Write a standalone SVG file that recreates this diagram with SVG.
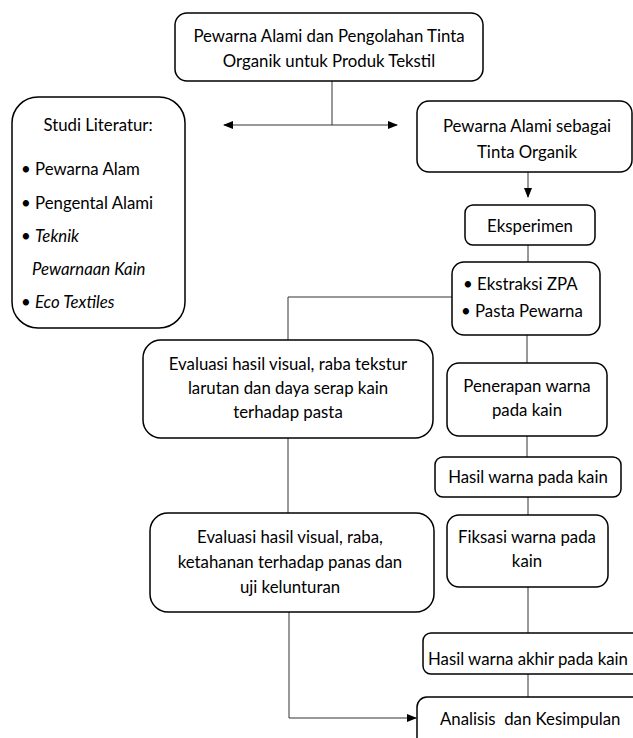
<svg xmlns="http://www.w3.org/2000/svg" width="633" height="738" viewBox="0 0 633 738">
<style>
.box{fill:#fff;stroke:#000;stroke-width:1.5}
.t{font-family:Lato,"Liberation Sans",sans-serif;font-size:16.8px;fill:#000}
.c{text-anchor:middle}
.i{font-style:italic}
.ln{fill:none;stroke:#333;stroke-width:1}
</style>
<defs>
<marker id="ah" markerWidth="10" markerHeight="10" refX="9" refY="5" orient="auto-start-reverse" markerUnits="userSpaceOnUse">
<path d="M0,1 L10,5 L0,9 Z" fill="#000"/>
</marker>
</defs>
<rect width="633" height="738" fill="#fff"/>
<g id="connectors">
<line class="ln" x1="332" y1="81" x2="332" y2="125"/>
<line class="ln" x1="224" y1="125" x2="397" y2="125" marker-start="url(#ah)" marker-end="url(#ah)"/>
<line class="ln" x1="528" y1="172" x2="528" y2="197" marker-end="url(#ah)"/>
<line class="ln" x1="528" y1="245" x2="528" y2="262"/>
<polyline class="ln" points="452,297 288,297 288,340"/>
<line class="ln" x1="527" y1="335" x2="527" y2="363"/>
<line class="ln" x1="288" y1="438" x2="288" y2="513"/>
<line class="ln" x1="527" y1="436" x2="527" y2="457"/>
<line class="ln" x1="528" y1="497" x2="528" y2="515"/>
<line class="ln" x1="528" y1="587" x2="528" y2="633"/>
<line class="ln" x1="528" y1="674" x2="528" y2="697"/>
<polyline class="ln" points="289,612 289,718 416,718" marker-end="url(#ah)"/>
</g>
<g id="n-top">
<rect class="box" x="175" y="13" width="308" height="68" rx="12"/>
<text class="t c" x="329" y="42">Pewarna Alami dan Pengolahan Tinta</text>
<text class="t c" x="329" y="67">Organik untuk Produk Tekstil</text>
</g>
<g id="n-studi">
<rect class="box" x="12" y="97" width="173" height="231" rx="26"/>
<text class="t c" x="98" y="131">Studi Literatur:</text>
<text class="t" x="21" y="175">• Pewarna Alam</text>
<text class="t" x="21" y="209">• Pengental Alami</text>
<text class="t" x="21" y="242">• <tspan class="i">Teknik</tspan></text>
<text class="t i" x="32" y="275">Pewarnaan Kain</text>
<text class="t" x="21" y="308">• <tspan class="i">Eco Textiles</tspan></text>
</g>
<g id="n-tinta">
<rect class="box" x="417" y="101" width="215" height="71" rx="12"/>
<text class="t c" x="527" y="132">Pewarna Alami sebagai</text>
<text class="t c" x="527" y="158">Tinta Organik</text>
</g>
<g id="n-eksperimen">
<rect class="box" x="465" y="205" width="130" height="40" rx="8"/>
<text class="t c" x="530" y="232">Eksperimen</text>
</g>
<g id="n-ekstraksi">
<rect class="box" x="452" y="262" width="148" height="73" rx="12"/>
<text class="t" x="463" y="290">• Ekstraksi ZPA</text>
<text class="t" x="461" y="317">• Pasta Pewarna</text>
</g>
<g id="n-eval1">
<rect class="box" x="143" y="340" width="290" height="98" rx="18"/>
<text class="t c" x="288" y="370">Evaluasi hasil visual, raba tekstur</text>
<text class="t c" x="288" y="394">larutan dan daya serap kain</text>
<text class="t c" x="288" y="418">terhadap pasta</text>
</g>
<g id="n-penerapan">
<rect class="box" x="447" y="363" width="160" height="73" rx="12"/>
<text class="t c" x="527" y="392">Penerapan warna</text>
<text class="t c" x="527" y="416">pada kain</text>
</g>
<g id="n-hasil">
<rect class="box" x="435" y="457" width="186" height="40" rx="8"/>
<text class="t c" x="528" y="483">Hasil warna pada kain</text>
</g>
<g id="n-eval2">
<rect class="box" x="150" y="513" width="284" height="99" rx="18"/>
<text class="t c" x="290" y="543">Evaluasi hasil visual, raba,</text>
<text class="t c" x="290" y="568">ketahanan terhadap panas dan</text>
<text class="t c" x="290" y="593">uji kelunturan</text>
</g>
<g id="n-fiksasi">
<rect class="box" x="447" y="515" width="161" height="72" rx="12"/>
<text class="t c" x="527" y="543">Fiksasi warna pada</text>
<text class="t c" x="527" y="567">kain</text>
</g>
<g id="n-akhir">
<rect class="box" x="423" y="633" width="220" height="41" rx="8"/>
<text class="t" x="428" y="665">Hasil warna akhir pada kain</text>
</g>
<g id="n-analisis">
<rect class="box" x="417" y="697" width="230" height="60" rx="10"/>
<text class="t" x="440" y="725" xml:space="preserve">Analisis  dan Kesimpulan</text>
</g>
</svg>
